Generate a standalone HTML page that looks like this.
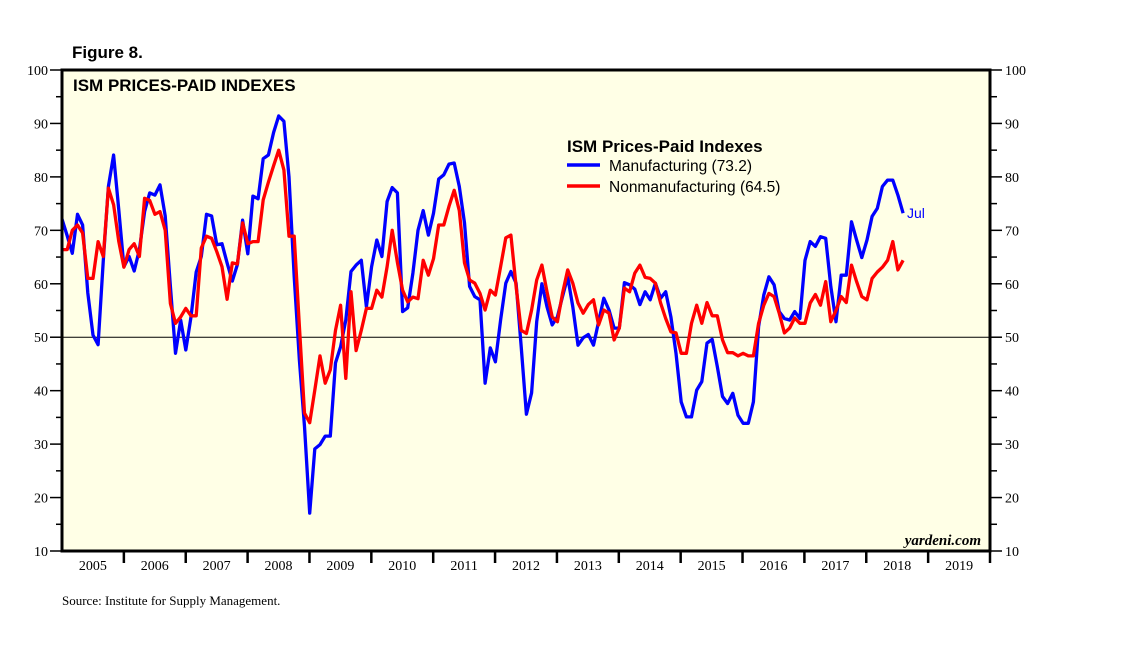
<!DOCTYPE html>
<html><head><meta charset="utf-8"><style>
body{margin:0;background:#fff;}
svg{display:block;}
</style></head><body>
<svg id="chart" width="1138" height="657" xmlns="http://www.w3.org/2000/svg">
<rect x="62" y="70" width="928" height="481" fill="#ffffe6"/>
<g id="grid"></g>
<g id="series"></g>
<rect x="62" y="70" width="928" height="481" fill="none" stroke="#000" stroke-width="3"/>
<g id="axes"></g>
<text x="72" y="58" font-family="Liberation Sans, sans-serif" font-weight="bold" font-size="17">Figure 8.</text>
<text x="73" y="91" font-family="Liberation Sans, sans-serif" font-weight="bold" font-size="17">ISM PRICES-PAID INDEXES</text>
<g>
<text x="567" y="152" font-family="Liberation Sans, sans-serif" font-weight="bold" font-size="17">ISM Prices-Paid Indexes</text>
<line x1="567" y1="165" x2="600" y2="165" stroke="#0000ff" stroke-width="3.5"/>
<text x="609" y="171" font-family="Liberation Sans, sans-serif" font-size="15.5">Manufacturing (73.2)</text>
<line x1="567" y1="186" x2="600" y2="186" stroke="#ff0000" stroke-width="3.5"/>
<text x="609" y="192" font-family="Liberation Sans, sans-serif" font-size="15.5">Nonmanufacturing (64.5)</text>
</g>
<text x="907" y="218" font-family="Liberation Sans, sans-serif" font-size="14" fill="#0000ff">Jul</text>
<text x="981" y="545" text-anchor="end" font-family="Liberation Serif, serif" font-weight="bold" font-style="italic" font-size="15">yardeni.com</text>
<text x="62" y="605" font-family="Liberation Serif, serif" font-size="13">Source: Institute for Supply Management.</text>
</svg>
<script>
const manufacturing = [72.1,69,65.7,73,71,58.3,50.4,48.6,64.4,78.2,84.1,73.8,63.2,65.1,62.4,66.4,73.5,77,76.6,78.5,72.7,59.5,47,53.2,47.6,53.8,62.2,65.1,73,72.7,67.3,67.5,63.9,60.5,63.6,71.9,65.6,76.4,75.9,83.4,84.1,88.3,91.4,90.4,80,61.3,45.7,33.3,17.1,29.1,29.9,31.5,31.5,45.2,48.2,53.2,62.3,63.5,64.4,55.7,
63.2,68.2,65.1,75.4,78,77,54.8,55.5,62,70,73.7,69.1,73.2,79.6,80.4,82.4,82.6,78.2,71.4,59.5,57.6,57,41.4,48,45.4,53.2,60.1,62.3,60.1,48.2,35.6,39.6,52.9,60,55.7,52.3,53.8,57.6,61.3,55.7,48.5,49.9,50.5,48.5,52.9,57.3,55.1,51.7,51.7,60.2,59.8,59,56.1,58.5,57,60.1,57.3,58.5,53.8,47,37.9,35.1,35.1,
40.1,41.7,48.9,49.6,44.5,38.9,37.6,39.5,35.4,33.9,33.9,37.9,52,57.9,61.3,59.8,54.8,53.5,53.2,54.8,53.5,64.4,67.9,67,68.8,68.5,59.5,52.9,61.6,61.6,71.6,68.2,64.9,68.2,72.6,74.1,78.2,79.4,79.4,76.6,73.2];
const nonmanufacturing = [66.4,66.4,70,71,69.5,61,61,67.9,65.1,77.9,74.8,67.9,63.1,66.4,67.5,65.1,76,75.6,73,73.5,70,56.3,52.6,53.8,55.4,54,54,66.7,68.9,68.5,66,63.2,57.1,63.9,63.7,71.4,67.5,67.9,67.9,75.7,79,82.1,85,81.3,68.9,68.9,52,35.8,34,40.1,46.5,41.4,43.9,51.3,56,42.3,58.5,47.5,51.3,55.4,
55.4,58.8,57.5,63.2,70,64,58.8,56.6,57.5,57.2,64.4,61.6,64.7,71,71,74.5,77.5,73.7,63.9,60.7,60.1,58.2,55.1,58.8,57.9,63.2,68.6,69.1,59.5,51.3,50.7,55.1,60.7,63.5,58.5,53.8,52.9,58.2,62.6,60.1,56.4,54.5,56.1,57,52.3,55.1,54.5,49.5,51.7,59.2,58.5,62,63.5,61.2,61,60.1,
56.4,53.5,51,50.8,47,47,52.6,56,52.6,56.5,54,54,49.5,47.1,47.1,46.5,47,46.5,46.5,52.6,56,58.2,57.6,54.5,50.8,51.7,53.6,52.6,52.6,56.4,58,56,60.4,52.9,55,57.6,56.5,63.5,60.4,57.6,57,61,62.2,63.1,64.4,67.9,62.6,64.4];
const yTicks = [10,20,30,40,50,60,70,80,90,100];
const years = ['2005','2006','2007','2008','2009','2010','2011','2012','2013','2014','2015','2016','2017','2018','2019'];

const NS='http://www.w3.org/2000/svg';
const X0=62,X1=990,Y0=551,Y1=70;
function yS(v){return Y0-(v-10)/(100-10)*(Y0-Y1);}
function xS(i){return X0+i*5.16;}
function yearX(k){return X0+k*(X1-X0)/years.length;}
function mk(tag,attrs,parent){const e=document.createElementNS(NS,tag);for(const k in attrs)e.setAttribute(k,attrs[k]);parent.appendChild(e);return e;}
const grid=document.getElementById('grid'),axes=document.getElementById('axes'),series=document.getElementById('series');

const ref=mk('line',{x1:X0,x2:X1,y1:yS(50),y2:yS(50),stroke:'#000','stroke-width':1},grid);



yTicks.forEach(v=>{
  const y=yS(v);
  const t1=mk('line',{x1:50,x2:X0,y1:y,y2:y,stroke:'#000','stroke-width':1.5},axes);
  
  
  const t2=mk('line',{x1:X1,x2:1002,y1:y,y2:y,stroke:'#000','stroke-width':1.5},axes);
  
  
  const l=mk('text',{x:48,y:y+5,'text-anchor':'end','font-family':'Liberation Serif, serif','font-size':14},axes);
  l.textContent=v;
  
  
  const r=mk('text',{x:1005,y:y+5,'font-family':'Liberation Serif, serif','font-size':14},axes);
  r.textContent=v;
  
  
  if(v<100){
    const ym=yS(v+5);
    const m1=mk('line',{x1:56,x2:X0,y1:ym,y2:ym,stroke:'#000','stroke-width':1.5},axes);
    
    
    const m2=mk('line',{x1:X1,x2:997,y1:ym,y2:ym,stroke:'#000','stroke-width':1.5},axes);
    
    
  }
});
years.forEach((yr,k)=>{
  if(k>0){
    const t=mk('line',{x1:yearX(k),x2:yearX(k),y1:Y0,y2:Y0+12,stroke:'#000','stroke-width':2.5},axes);
    
    
  }
  const l=mk('text',{x:(yearX(k)+yearX(k+1))/2,y:570,'text-anchor':'middle','font-family':'Liberation Serif, serif','font-size':14},axes);
  l.textContent=yr;
  
  
});
const tEnd=mk('line',{x1:X1,x2:X1,y1:Y0,y2:Y0+12,stroke:'#000','stroke-width':2.5},axes);



function drawLine(arr,color,name){
  const d=arr.map((v,i)=>(i?'L':'M')+xS(i).toFixed(1)+','+yS(v).toFixed(1)).join('');
  const p=mk('path',{d:d,fill:'none',stroke:color,'stroke-width':3.3,'stroke-linejoin':'round'},series);
  
  
}
drawLine(manufacturing,'#0000ff','manufacturing-line');
drawLine(nonmanufacturing,'#ff0000','nonmanufacturing-line');
</script>
</body></html>
